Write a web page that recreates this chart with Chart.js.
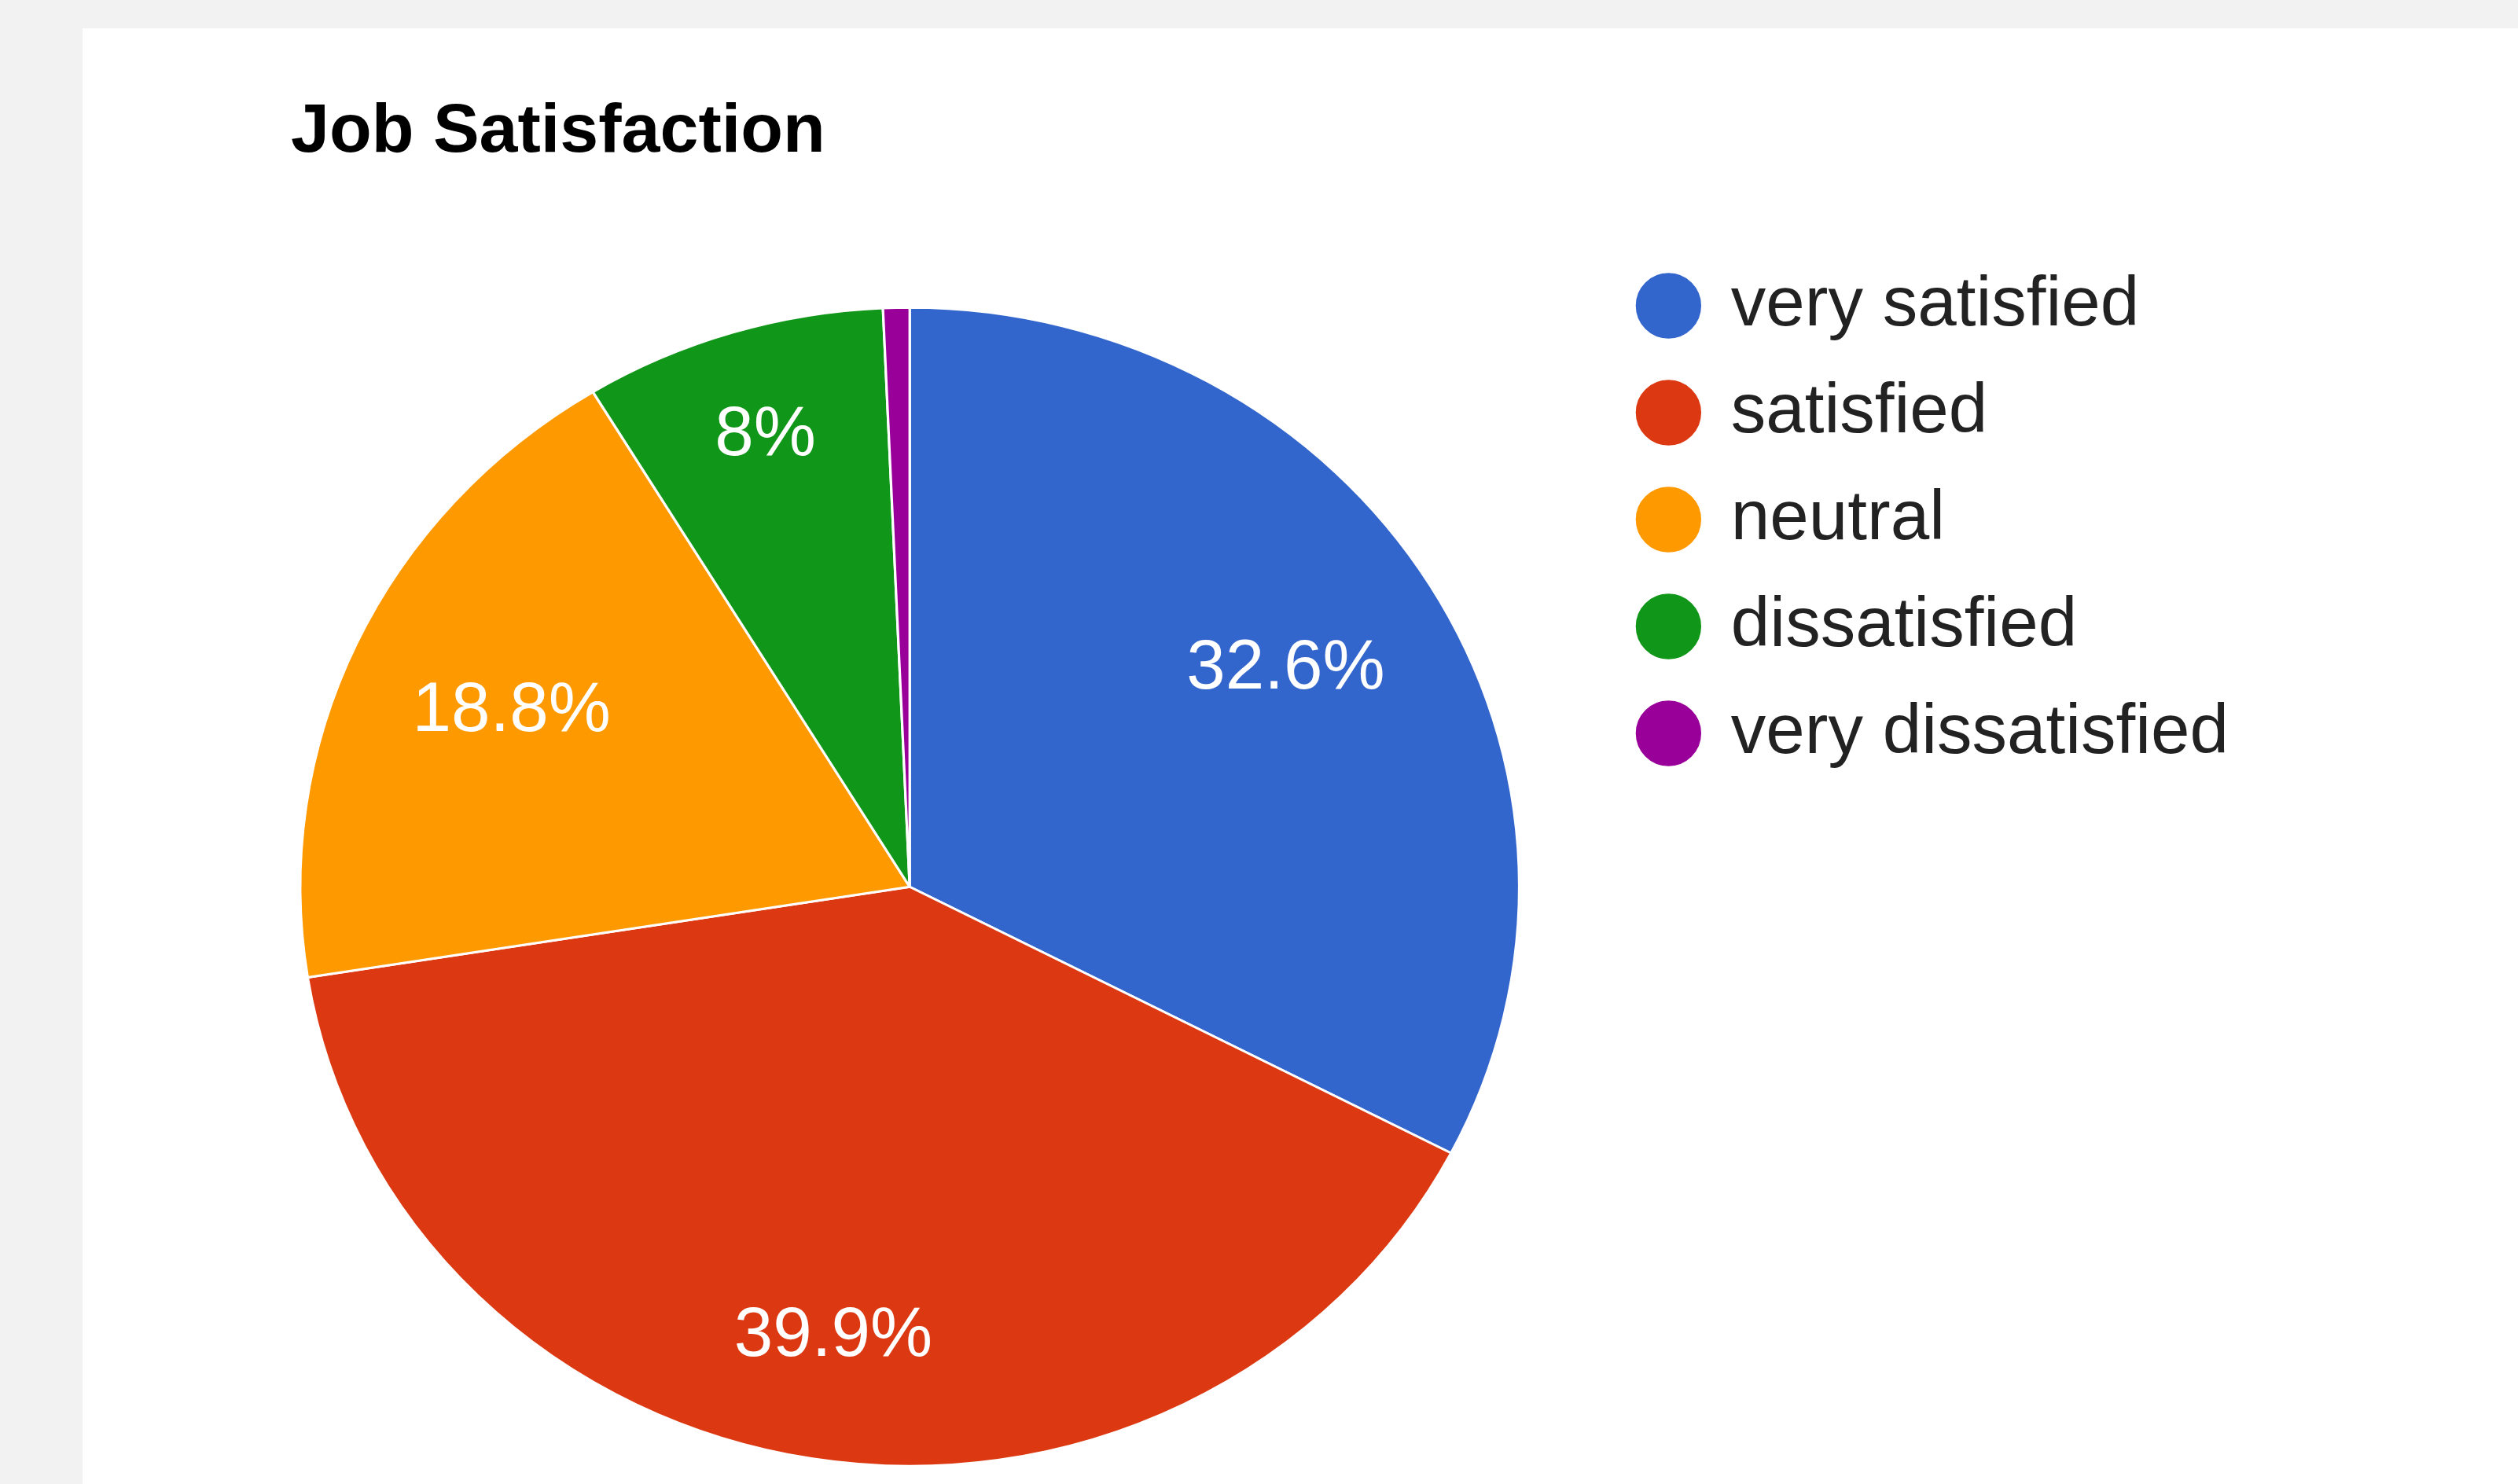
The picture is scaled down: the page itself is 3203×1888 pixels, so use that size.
<!DOCTYPE html>
<html>
<head>
<meta charset="utf-8">
<script src="https://cdn.jsdelivr.net/npm/chart.js@4"></script>
<style>
  html, body { margin: 0; padding: 0; width: 3203px; height: 1888px; overflow: hidden; background: #f2f2f2; }
  #card { position: absolute; left: 105px; top: 36px; right: 0; bottom: 0; background: #fff; }
  #title { position: absolute; left: 370px; top: 119px; font: bold 88px "Liberation Sans", Arial, sans-serif; line-height: 88px; color: #000; white-space: nowrap; }
  #wrap { position: absolute; left: 105px; top: 36px; width: 2760px; height: 1923px; }
</style>
</head>
<body>
<div id="card"></div>
<div id="title">Job Satisfaction</div>
<div id="wrap"><canvas id="chart"></canvas></div>
<script>
const labels = ['very satisfied', 'satisfied', 'neutral', 'dissatisfied', 'very dissatisfied'];
const shares = [32.6, 39.9, 18.8, 8, 0.7];
const colors = ['#3366cc', '#dc3912', '#ff9900', '#109618', '#990099'];

// how far out each percentage sits, as a fraction of the radius
const labelDist = [0.722, 0.787, 0.72, 0.814, 0.75];
// the source pie is a little wider than tall
const stretchX = 1.052;
const fontFamily = '"Liberation Sans", Arial, sans-serif';

const ovalPie = {
  id: 'ovalPie',
  beforeDatasetsDraw(chart) {
    const arc = chart.getDatasetMeta(0).data[0];
    const ctx = chart.ctx;
    ctx.save();
    ctx.translate(arc.x, arc.y);
    ctx.scale(stretchX, 1);
    ctx.translate(-arc.x, -arc.y);
  },
  afterDatasetsDraw(chart) {
    const ctx = chart.ctx;
    ctx.restore();

    // percentage labels inside the slices
    ctx.save();
    ctx.font = '89px ' + fontFamily;
    ctx.fillStyle = '#fff';
    ctx.textAlign = 'center';
    ctx.textBaseline = 'middle';
    chart.getDatasetMeta(0).data.forEach((arc, i) => {
      if (shares[i] < 1) return;
      const mid = (arc.startAngle + arc.endAngle) / 2;
      const r = arc.outerRadius * labelDist[i];
      ctx.fillText(shares[i] + '%', arc.x + Math.cos(mid) * r * stretchX, arc.y + Math.sin(mid) * r);
    });
    ctx.restore();
  }
};

new Chart(document.getElementById('chart'), {
  type: 'pie',
  data: {
    labels,
    datasets: [{
      data: shares,
      backgroundColor: colors,
      borderColor: '#fff',
      borderWidth: 3,
      radius: 737,
    }],
  },
  options: {
    responsive: true,
    maintainAspectRatio: false,
    animation: false,
    layout: { padding: { left: 169, top: 261.5, right: 20, bottom: 0 } },
    plugins: {
      title: { display: false },
      tooltip: { enabled: false },
      legend: {
        position: 'right',
        align: 'start',
        labels: {
          usePointStyle: true,
          pointStyle: 'circle',
          boxWidth: 70,
          boxHeight: 61,
          padding: 47,
          color: '#222',
          font: { size: 89, family: fontFamily },
        },
      },
    },
  },
  plugins: [ovalPie],
});
</script>
</body>
</html>
